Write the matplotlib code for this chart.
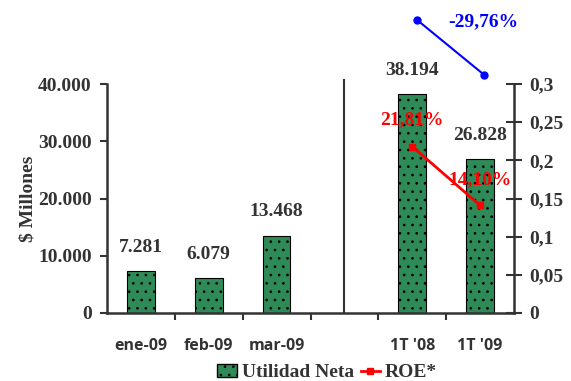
import matplotlib
matplotlib.use("Agg")
import matplotlib.pyplot as plt
from matplotlib.patches import Patch
from matplotlib.lines import Line2D

# datos
categorias = ["ene-09", "feb-09", "mar-09", "", "1T '08", "1T '09"]
utilidad = [7281, 6079, 13468, None, 38194, 26828]
etiquetas_util = ["7.281", "6.079", "13.468", "", "38.194", "26.828"]
roe_x = [4, 5]
roe = [0.2181, 0.1410]
roe_txt = ["21,81%", "14,10%"]
var_txt = "-29,76%"
var_y = [0.384, 0.312]

left_ticks = [0, 10000, 20000, 30000, 40000]
left_lbls = ["0", "10.000", "20.000", "30.000", "40.000"]
right_ticks = [0, 0.05, 0.1, 0.15, 0.2, 0.25, 0.3]
right_lbls = ["0", "0,05", "0,1", "0,15", "0,2", "0,25", "0,3"]

verde = "#2e8b57"
gris = "#333333"
serif = "Liberation Serif"
sans = "Open Sans"
fs = 14
plt.rcParams["hatch.linewidth"] = 0.7

fig = plt.figure(figsize=(5.71, 3.81), dpi=100)
ax = fig.add_axes([0.1874, 0.1785, 0.7128, 0.601])
ax2 = ax.twinx()

xs = [i for i, v in enumerate(utilidad) if v is not None]
vals = [v for v in utilidad if v is not None]
ax.bar(xs, vals, width=0.41, color=verde, edgecolor="black", hatch="..", linewidth=0.8, zorder=2)
for i, v in zip(xs, vals):
    ax.text(i, v + 4200, etiquetas_util[i], ha="center", va="center", fontsize=fs,
            fontweight="bold", family=serif, color=gris)

ax.set_xlim(-0.5, 5.5)
ax.set_ylim(0, 40000)
ax.set_yticks(left_ticks)
ax.set_yticklabels(left_lbls, fontsize=fs, fontweight="bold", family=serif, color=gris)
ax.set_xticks([0.5 + i for i in range(5)], minor=False)
ax.set_xticklabels([])
ax.set_xticks(range(6), minor=True)
ax.set_xticklabels(categorias, minor=True, fontsize=11.5, fontweight="bold", family=sans, color=gris)
ax.tick_params(axis="x", which="minor", length=0, pad=18)
ax.tick_params(axis="x", which="major", length=5, width=1.5, color=gris, direction="out")
ax.tick_params(axis="y", length=5, width=1.5, color=gris, direction="out", pad=6)
ax.set_ylabel("$ Millones", fontsize=fs, fontweight="bold", family=serif, color=gris, labelpad=1)

ax.spines["top"].set_visible(False)
ax2.spines["top"].set_visible(False)
for s in ["left", "bottom"]:
    ax.spines[s].set_color(gris)
    ax.spines[s].set_linewidth(1.8)
ax2.spines["right"].set_color(gris)
ax2.spines["right"].set_linewidth(1.8)
ax2.spines["left"].set_visible(False)
ax2.spines["bottom"].set_visible(False)

# linea separadora
ax.plot([3, 3], [0, 40700], color=gris, linewidth=1.5, clip_on=False, zorder=1)

ax2.set_ylim(0, 0.3)
ax2.set_yticks(right_ticks)
ax2.set_yticklabels(right_lbls, fontsize=fs, fontweight="bold", family=serif, color=gris)
ax2.tick_params(axis="y", length=12, width=1.5, color=gris, direction="inout", pad=5)

ax2.plot(roe_x, roe, color="red", marker="s", markersize=5, linewidth=2, zorder=3)
ax2.text(4, roe[0] + 0.035, roe_txt[0], ha="center", va="center", fontsize=fs,
         fontweight="bold", family=serif, color="red")
ax2.text(5, roe[1] + 0.033, roe_txt[1], ha="center", va="center", fontsize=fs,
         fontweight="bold", family=serif, color="red")

ax2.plot([4.07, 5.06], var_y, color="blue", marker="o", markersize=5, linewidth=1.5, clip_on=False)
ax2.text(5.05, 0.381, var_txt, ha="center", va="center", fontsize=fs,
         fontweight="bold", family=serif, color="blue")

handles = [Patch(facecolor=verde, edgecolor="black", hatch="..", label="Utilidad Neta"),
           Line2D([0], [0], color="red", marker="s", markersize=4, linewidth=2, label="ROE*")]
fig.legend(handles=handles, loc="center", bbox_to_anchor=(0.573, 0.022), ncol=2, frameon=False,
           prop={"family": serif, "size": fs, "weight": "bold"}, handlelength=1.0,
           handleheight=0.7, handletextpad=0.25, columnspacing=0.35, labelcolor=gris)

fig.savefig("out.png", dpi=100)
